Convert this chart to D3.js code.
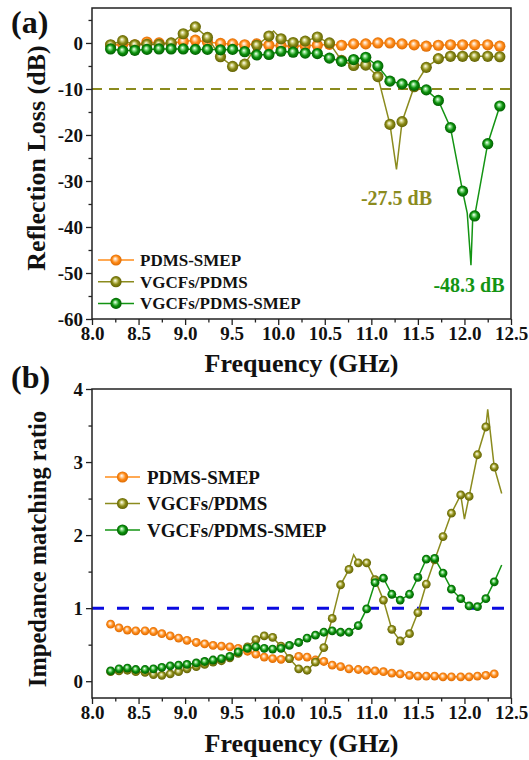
<!DOCTYPE html>
<html><head><meta charset="utf-8">
<script src="https://cdn.jsdelivr.net/npm/d3@7"></script>
<style>
body{margin:0;background:#fff}
svg{display:block}
text{font-family:"Liberation Serif","Times New Roman",serif;font-weight:bold;fill:#111}
</style>
</head><body>
<svg id="chart" width="529" height="760"></svg>
<script>
// ---------- data ----------
const seriesNames = ["PDMS-SMEP", "VGCFs/PDMS", "VGCFs/PDMS-SMEP"];

// Panel (a): reflection loss (dB)
const freqA = [8.20, 8.33, 8.46, 8.59, 8.72, 8.85, 8.98, 9.11, 9.24, 9.38, 9.51, 9.64, 9.77, 9.90, 10.03, 10.16, 10.29, 10.42, 10.55, 10.68, 10.81, 10.94, 11.07, 11.20, 11.33, 11.46, 11.59, 11.72, 11.85, 11.98, 12.11, 12.25, 12.38];
const rlPdmsSmep = [-0.5, -0.3, -0.4, 0.2, 0.0, -0.1, 0.3, 0.6, 0.2, -0.1, -0.2, -0.4, -0.2, -0.5, -0.6, -0.7, -0.6, -0.5, -0.3, -0.5, -0.2, -0.2, 0.0, 0.0, -0.2, -0.4, -0.7, -0.5, -0.4, -0.4, -0.4, -0.4, -0.7];
const rlVgcfsPdms = [-0.4, 0.5, -0.4, -0.3, -0.3, 0.0, 2.0, 3.5, 1.2, -3.0, -5.1, -4.6, -0.5, 1.5, 0.9, 0.1, 0.4, 1.3, 0.0, -3.8, -4.9, -4.8, -7.3, -17.7, -17.1, -9.5, -5.3, -3.4, -2.9, -2.9, -2.9, -2.9, -3.0];
const rlVgcfsSmep = [-1.3, -1.7, -1.6, -1.4, -1.3, -1.3, -1.3, -1.4, -1.4, -1.5, -1.4, -1.9, -2.6, -2.5, -1.8, -2.0, -2.2, -2.3, -3.3, -4.0, -3.6, -3.1, -5.0, -8.3, -8.9, -9.2, -10.2, -12.5, -18.4, -32.2, -37.6, -21.9, -13.7];
// line-only points between markers (sharp dips)
const rlVgcfsPdmsExtra = [[9.95, 2.6], [11.27, -27.5]];
const rlVgcfsSmepExtra = [[12.03, -37.0], [12.07, -48.3], [12.09, -37.5]];
const rlAnnotations = ["-27.5 dB", "-48.3 dB"];

// Panel (b): impedance matching ratio
const freqB = [8.20, 8.29, 8.38, 8.47, 8.57, 8.66, 8.75, 8.84, 8.93, 9.02, 9.12, 9.21, 9.30, 9.39, 9.48, 9.57, 9.67, 9.76, 9.85, 9.94, 10.03, 10.12, 10.22, 10.31, 10.40, 10.49, 10.58, 10.67, 10.76, 10.86, 10.95, 11.04, 11.13, 11.22, 11.31, 11.41, 11.50, 11.59, 11.68, 11.77, 11.86, 11.96, 12.05, 12.14, 12.23, 12.32];
const zPdmsSmep = [0.78, 0.73, 0.70, 0.69, 0.69, 0.68, 0.65, 0.62, 0.59, 0.56, 0.53, 0.51, 0.49, 0.48, 0.47, 0.45, 0.41, 0.37, 0.33, 0.31, 0.30, 0.31, 0.34, 0.33, 0.29, 0.27, 0.22, 0.20, 0.17, 0.16, 0.15, 0.14, 0.13, 0.11, 0.10, 0.08, 0.07, 0.07, 0.07, 0.06, 0.06, 0.06, 0.06, 0.07, 0.08, 0.10];
const zVgcfsPdms = [0.13, 0.14, 0.15, 0.13, 0.12, 0.09, 0.08, 0.10, 0.13, 0.17, 0.20, 0.23, 0.26, 0.28, 0.32, 0.38, 0.47, 0.57, 0.62, 0.60, 0.48, 0.31, 0.17, 0.15, 0.26, 0.46, 0.86, 1.32, 1.53, 1.62, 1.62, 1.39, 1.11, 0.71, 0.55, 0.65, 0.94, 1.33, 1.66, 1.98, 2.30, 2.55, 2.53, 3.10, 3.48, 2.93];
const zVgcfsSmep = [0.14, 0.17, 0.18, 0.16, 0.16, 0.17, 0.19, 0.21, 0.22, 0.23, 0.25, 0.27, 0.29, 0.31, 0.34, 0.40, 0.45, 0.47, 0.45, 0.44, 0.45, 0.49, 0.53, 0.59, 0.63, 0.67, 0.69, 0.67, 0.67, 0.76, 0.99, 1.35, 1.41, 1.19, 1.11, 1.19, 1.42, 1.67, 1.68, 1.48, 1.26, 1.13, 1.03, 1.02, 1.13, 1.36];
const zVgcfsPdmsExtra = [[10.81, 1.73], [12.00, 2.22], [12.25, 3.72], [12.40, 2.57]];
const zVgcfsSmepExtra = [[12.40, 1.59]];

// ticks
const xTicks = [8.0, 8.5, 9.0, 9.5, 10.0, 10.5, 11.0, 11.5, 12.0, 12.5];
const xMinor = [8.25, 8.75, 9.25, 9.75, 10.25, 10.75, 11.25, 11.75, 12.25];
const yTicksA = [-60, -50, -40, -30, -20, -10, 0];
const yMinorA = [-55, -45, -35, -25, -15, -5, 5];
const yTicksB = [0, 1, 2, 3, 4];
const yMinorB = [0.5, 1.5, 2.5, 3.5];

// ---------- styles ----------
const colors = {
  orange: {line: "#ff8c1a", base: "#ff8a16", light: "#ffd3a6", dark: "#d46400"},
  olive:  {line: "#8b8b1e", base: "#8a8a16", light: "#d8d890", dark: "#5a5a00"},
  green:  {line: "#139413", base: "#0c900c", light: "#8fe08f", dark: "#005400"}
};
const keys = ["orange", "olive", "green"];

const svg = d3.select("#chart");
const defs = svg.append("defs");
keys.forEach(k => {
  const g = defs.append("radialGradient").attr("id", "ball-" + k)
    .attr("cx", "50%").attr("cy", "50%").attr("r", "55%").attr("fx", "42%").attr("fy", "38%");
  g.append("stop").attr("offset", "0%").attr("stop-color", "#ffffff");
  g.append("stop").attr("offset", "22%").attr("stop-color", colors[k].light);
  g.append("stop").attr("offset", "55%").attr("stop-color", colors[k].base);
  g.append("stop").attr("offset", "100%").attr("stop-color", colors[k].dark);
});

const X0 = 92, X1 = 511;
const x = d3.scaleLinear().domain([8, 12.5]).range([X0, X1]);

function mergeLine(freqs, vals, extra) {
  const pts = freqs.map((f, i) => [f, vals[i]]).concat(extra || []);
  return pts.sort((a, b) => a[0] - b[0]);
}

function drawPanel(opt) {
  const y = d3.scaleLinear().domain(opt.yDomain).range([opt.bottom, opt.top]);
  const g = svg.append("g");

  // reference dashed line
  g.append("line").attr("x1", X0).attr("x2", X1)
    .attr("y1", y(opt.refValue)).attr("y2", y(opt.refValue))
    .attr("stroke", opt.refColor).attr("stroke-width", opt.refWidth)
    .attr("stroke-dasharray", opt.refDash);

  const line = d3.line().x(d => x(d[0])).y(d => y(d[1]));
  opt.series.forEach((s, si) => {
    const k = keys[si];
    const pts = mergeLine(opt.freqs, s.vals, s.extra);
    g.append("path").attr("d", line(pts)).attr("fill", "none")
      .attr("stroke", colors[k].line).attr("stroke-width", 1.5);
    g.selectAll(null).data(opt.freqs.map((f, i) => [f, s.vals[i]])).enter()
      .append("circle").attr("cx", d => x(d[0])).attr("cy", d => y(d[1]))
      .attr("r", opt.r).attr("fill", "url(#ball-" + k + ")");
  });

  // frame
  g.append("rect").attr("x", X0).attr("y", opt.top).attr("width", X1 - X0).attr("height", opt.bottom - opt.top)
    .attr("fill", "none").attr("stroke", "#222").attr("stroke-width", 1.5);

  // axes
  const ax = g.append("g").attr("transform", `translate(0,${opt.bottom})`)
    .call(d3.axisBottom(x).tickValues(xTicks).tickSize(6).tickPadding(2).tickFormat(d3.format(".1f")));
  const axm = g.append("g").attr("transform", `translate(0,${opt.bottom})`)
    .call(d3.axisBottom(x).tickValues(xMinor).tickSize(3.5).tickFormat(""));
  const ay = g.append("g").attr("transform", `translate(${X0},0)`)
    .call(d3.axisLeft(y).tickValues(opt.yTicks).tickSize(6).tickPadding(3).tickFormat(d => String(d)));
  const aym = g.append("g").attr("transform", `translate(${X0},0)`)
    .call(d3.axisLeft(y).tickValues(opt.yMinor).tickSize(3.5).tickFormat(""));
  [ax, axm, ay, aym].forEach(a => {
    a.select(".domain").remove();
    a.selectAll("line").attr("stroke", "#222").attr("stroke-width", 1.3);
    a.selectAll("text").attr("font-size", 19).attr("fill", "#111")
      .attr("font-family", '"Liberation Serif","Times New Roman",serif').attr("font-weight", "bold");
  });

  // axis titles
  g.append("text").attr("x", (X0 + X1) / 2).attr("y", opt.xTitleY).attr("text-anchor", "middle")
    .attr("font-size", 26).text("Frequency (GHz)");
  g.append("text").attr("transform", `translate(${opt.yTitleX},${opt.yTitleCY}) rotate(-90)`)
    .attr("text-anchor", "middle").attr("font-size", opt.yTitleSize).text(opt.yTitle);

  // panel label
  g.append("text").attr("x", 11).attr("y", opt.labelY).attr("font-size", 32).text(opt.label);

  // legend
  const lg = g.append("g");
  seriesNames.forEach((name, i) => {
    const k = keys[i];
    const ly = opt.legend.y0 + i * opt.legend.dy;
    lg.append("line").attr("x1", opt.legend.x1).attr("x2", opt.legend.x2).attr("y1", ly).attr("y2", ly)
      .attr("stroke", colors[k].line).attr("stroke-width", 1.5);
    lg.append("circle").attr("cx", (opt.legend.x1 + opt.legend.x2) / 2).attr("cy", ly).attr("r", opt.legend.r)
      .attr("fill", "url(#ball-" + k + ")");
    lg.append("text").attr("x", opt.legend.tx).attr("y", ly).attr("dy", "0.35em")
      .attr("font-size", opt.legend.fs).text(name);
  });
  return {g, y};
}

const pa = drawPanel({
  top: 8, bottom: 319, yDomain: [-60, 7.6], yTicks: yTicksA, yMinor: yMinorA,
  refValue: -10, refColor: "#8b8b1e", refWidth: 2, refDash: "10,7",
  freqs: freqA, r: 5.6,
  series: [{vals: rlPdmsSmep}, {vals: rlVgcfsPdms, extra: rlVgcfsPdmsExtra}, {vals: rlVgcfsSmep, extra: rlVgcfsSmepExtra}],
  xTitleY: 372, yTitleX: 45, yTitleCY: 158, yTitleSize: 26, yTitle: "Reflection Loss (dB)",
  label: "(a)", labelY: 33,
  legend: {x1: 98, x2: 134, y0: 260, dy: 21.7, r: 5.6, tx: 140, fs: 17}
});
// annotations on panel (a)
pa.g.append("text").attr("x", x(11.27)).attr("y", 205).attr("text-anchor", "middle")
  .attr("font-size", 20).style("fill", colors.olive.line).text(rlAnnotations[0]);
pa.g.append("text").attr("x", 469).attr("y", 292).attr("text-anchor", "middle")
  .attr("font-size", 20).style("fill", colors.green.line).text(rlAnnotations[1]);

drawPanel({
  top: 389, bottom: 698, yDomain: [-0.23, 4], yTicks: yTicksB, yMinor: yMinorB,
  refValue: 1, refColor: "#0a0ae0", refWidth: 3, refDash: "12,13",
  freqs: freqB, r: 4.4,
  series: [{vals: zPdmsSmep}, {vals: zVgcfsPdms, extra: zVgcfsPdmsExtra}, {vals: zVgcfsSmep, extra: zVgcfsSmepExtra}],
  xTitleY: 752, yTitleX: 46, yTitleCY: 549, yTitleSize: 24.5, yTitle: "Impedance matching ratio",
  label: "(b)", labelY: 388,
  legend: {x1: 105, x2: 140, y0: 477, dy: 26.5, r: 5.6, tx: 147, fs: 19}
});
</script>
</body></html>
